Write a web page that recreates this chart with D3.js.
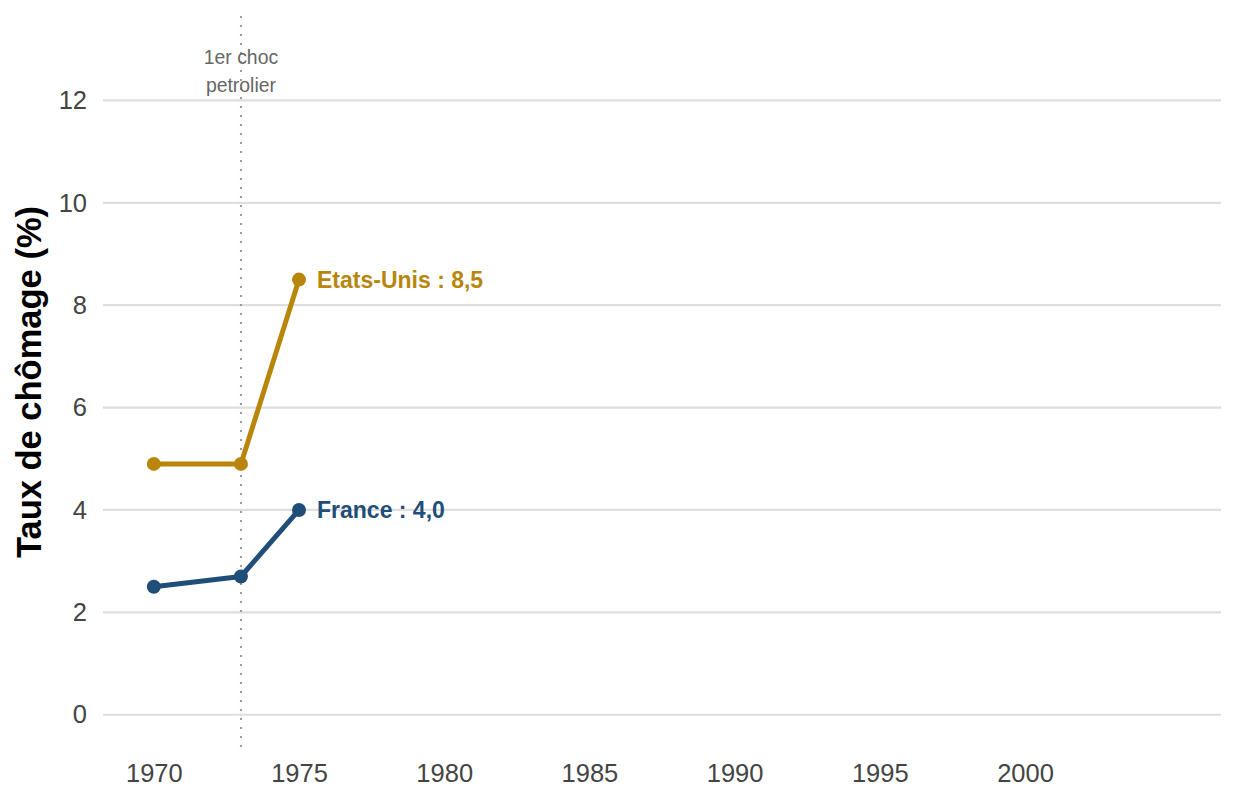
<!DOCTYPE html>
<html>
<head>
<meta charset="utf-8">
<script src="https://cdn.jsdelivr.net/npm/d3@7"></script>
<style>
  body { margin: 0; background: #fff; }
  text { font-family: "Liberation Sans", Arial, sans-serif; }
</style>
</head>
<body>
<svg id="chart" width="1248" height="806"></svg>
<script>
// donnees
const years = [1970, 1973, 1975]
const france = [2.5, 2.7, 4.0]
const usa = [4.9, 4.9, 8.5]
const yTicks = [0, 2, 4, 6, 8, 10, 12]
const xTicks = [1970, 1975, 1980, 1985, 1990, 1995, 2000]
const chocYear = 1973
const chocLabel = ['1er choc', 'petrolier']

const series = [
    { name: 'Etats-Unis', values: usa, color: '#B8860B' },
    { name: 'France', values: france, color: '#1F4E79' },
]

const svg = d3.select('#chart')
const margin = { left: 103, right: 27, top: 16, bottom: 58 }
const W = 1248, H = 806

// domaine + 5% comme ggplot
const x = d3.scaleLinear()
    .domain([1970 - 1.75, 2005 + 1.75])
    .range([margin.left, W - margin.right])
const y = d3.scaleLinear()
    .domain([-0.65, 13.65])
    .range([H - margin.bottom, margin.top])

// grille horizontale
svg.append('g')
    .selectAll('line')
    .data(yTicks)
    .join('line')
    .attr('x1', x.range()[0])
    .attr('x2', x.range()[1])
    .attr('y1', d => y(d))
    .attr('y2', d => y(d))
    .attr('stroke', '#dedede')
    .attr('stroke-width', 2.2)

// axe y
const yAxis = svg.append('g')
    .attr('transform', `translate(${margin.left},0)`)
    .call(d3.axisLeft(y).tickValues(yTicks).tickSize(0).tickPadding(16))
yAxis.select('.domain').remove()
yAxis.selectAll('text').attr('font-size', 25.5).attr('fill', '#444')
    .attr('font-family', '"Liberation Sans", Arial, sans-serif')

// axe x
const xAxis = svg.append('g')
    .attr('transform', `translate(0,${H - margin.bottom})`)
    .call(d3.axisBottom(x).tickValues(xTicks).tickFormat(d3.format('d')).tickSize(0).tickPadding(16))
xAxis.select('.domain').remove()
xAxis.selectAll('text').attr('font-size', 25.5).attr('fill', '#444')
    .attr('font-family', '"Liberation Sans", Arial, sans-serif')

// titre axe y
svg.append('text')
    .attr('transform', `translate(41,${(y(13.65) + y(-0.65)) / 2}) rotate(-90)`)
    .attr('text-anchor', 'middle')
    .attr('font-size', 34.5)
    .attr('font-weight', 'bold')
    .attr('fill', '#000')
    .text('Taux de chômage (%)')

// ligne du choc petrolier
svg.append('line')
    .attr('x1', x(chocYear)).attr('x2', x(chocYear))
    .attr('y1', y.range()[1]).attr('y2', y.range()[0])
    .attr('stroke', '#999')
    .attr('stroke-width', 2)
    .attr('stroke-dasharray', '2 7')

svg.append('g')
    .selectAll('text')
    .data(chocLabel)
    .join('text')
    .attr('x', x(chocYear))
    .attr('y', (d, i) => 64 + i * 27.5)
    .attr('text-anchor', 'middle')
    .attr('font-size', 19.4)
    .attr('fill', '#666')
    .text(d => d)

// courbes
const line = d3.line()
    .x((d, i) => x(years[i]))
    .y(d => y(d))

const g = svg.append('g')
series.forEach(s => {
    g.append('path')
        .attr('d', line(s.values))
        .attr('fill', 'none')
        .attr('stroke', s.color)
        .attr('stroke-width', 5)
        .attr('stroke-linejoin', 'round')
    g.selectAll(null)
        .data(s.values)
        .join('circle')
        .attr('cx', (d, i) => x(years[i]))
        .attr('cy', d => y(d))
        .attr('r', 7)
        .attr('fill', s.color)
    const last = s.values.length - 1
    g.append('text')
        .attr('x', x(years[last]) + 18)
        .attr('y', y(s.values[last]))
        .attr('dy', '0.35em')
        .attr('font-size', 23)
        .attr('font-weight', 'bold')
        .attr('fill', s.color)
        .text(`${s.name} : ${d3.format('.1f')(s.values[last]).replace('.', ',')}`)
})
</script>
</body>
</html>
